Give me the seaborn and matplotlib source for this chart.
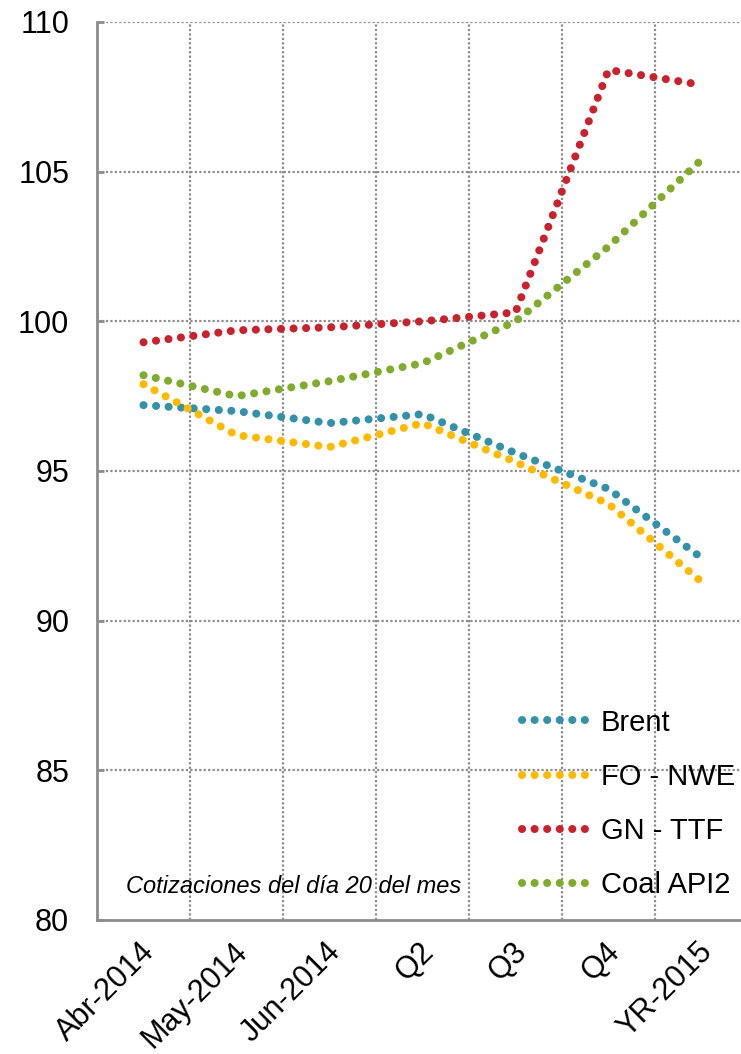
import pandas as pd
import matplotlib
matplotlib.use('Agg')
import matplotlib.pyplot as plt
import matplotlib.transforms as mtransforms
import seaborn as sns

# categories and series
periods = ['Abr-2014', 'May-2014', 'Jun-2014', 'Q2', 'Q3', 'Q4', 'YR-2015']
brent = [97.2, 97.0, 96.6, 96.9, 95.6, 94.4, 92.1]
fo_nwe = [97.9, 96.2, 95.8, 96.6, 95.3, 93.9, 91.3]
gn_ttf = [99.3, 99.7, 99.8, 100.0, 100.3, 108.4, 107.9]
coal_api2 = [98.2, 97.5, 98.0, 98.6, 100.0, 102.5, 105.4]

series_names = ['Brent', 'FO - NWE', 'GN - TTF', 'Coal API2']
colors = ['#3392AA', '#FFB900', '#C8232C', '#80AC2E']

data = pd.DataFrame({'periodo': periods, 'Brent': brent, 'FO - NWE': fo_nwe,
                     'GN - TTF': gn_ttf, 'Coal API2': coal_api2})
long = data.melt(id_vars='periodo', var_name='serie', value_name='valor')

sns.set_style('white')
plt.rcParams['font.family'] = ['Liberation Sans', 'DejaVu Sans']
plt.rcParams['text.color'] = 'black'
plt.rcParams['xtick.color'] = 'black'
plt.rcParams['ytick.color'] = 'black'

fig = plt.figure(figsize=(7.41, 10.54), dpi=100)
W, H = 741, 1054
ax = fig.add_axes([97 / W, (H - 920) / H, 651 / W, 898 / H])

sns.lineplot(data=long, x='periodo', y='valor', hue='serie', hue_order=series_names,
             palette=colors, sort=False, legend=False, ax=ax)

# dotted round-dot lines
for line in ax.lines:
    line.set_linewidth(5.8)
    line.set_linestyle((0, (0.01, 1.55)))
    line.set_dash_capstyle('round')
    line.set_zorder(3)

ax.set_xlim(-0.5, 6.5)
ax.set_ylim(80, 110)
ax.set_yticks(range(80, 111, 5))
ax.set_xticks(range(len(periods)))
ax.set_xticklabels(periods)
ax.set_xlabel('')
ax.set_ylabel('')

# grid at category boundaries and value ticks
for xb in [k + 0.5 for k in range(len(periods) - 1)]:
    ax.axvline(xb, color='#8c8c8c', lw=1.6, ls=(0, (1, 1)), zorder=0)
for yv in range(85, 111, 5):
    ax.axhline(yv, color='#8c8c8c', lw=1.6, ls=(0, (1, 1)), zorder=0)

for s in ['top', 'right']:
    ax.spines[s].set_visible(False)
for s in ['left', 'bottom']:
    ax.spines[s].set_color('#8c8c8c')
    ax.spines[s].set_linewidth(2)

ax.tick_params(axis='y', direction='in', length=5, width=2, color='#8c8c8c',
               labelcolor='black', labelsize=22, pad=20, left=True)
ax.tick_params(axis='x', length=0, labelsize=22, labelcolor='black', pad=12)
shift = mtransforms.ScaledTranslation(-4 / 100, 0, fig.dpi_scale_trans)
for lab in ax.get_xticklabels():
    lab.set_rotation(45)
    lab.set_ha('right')
    lab.set_rotation_mode('anchor')
    lab.set_transform(lab.get_transform() + shift)

ax.text(0.045, 0.025, 'Cotizaciones del día 20 del mes', transform=ax.transAxes,
        fontsize=17, style='italic', ha='left', va='bottom', color='black')

leg = ax.legend(handles=ax.lines[:4], labels=series_names, loc='lower right',
                bbox_to_anchor=(0.98, 0.023), frameon=False, fontsize=21,
                handlelength=2.25, handletextpad=0.45, labelspacing=0.9,
                borderpad=0, borderaxespad=0)
for t in leg.get_texts():
    t.set_color('black')

fig.savefig('out.png', dpi=100)
